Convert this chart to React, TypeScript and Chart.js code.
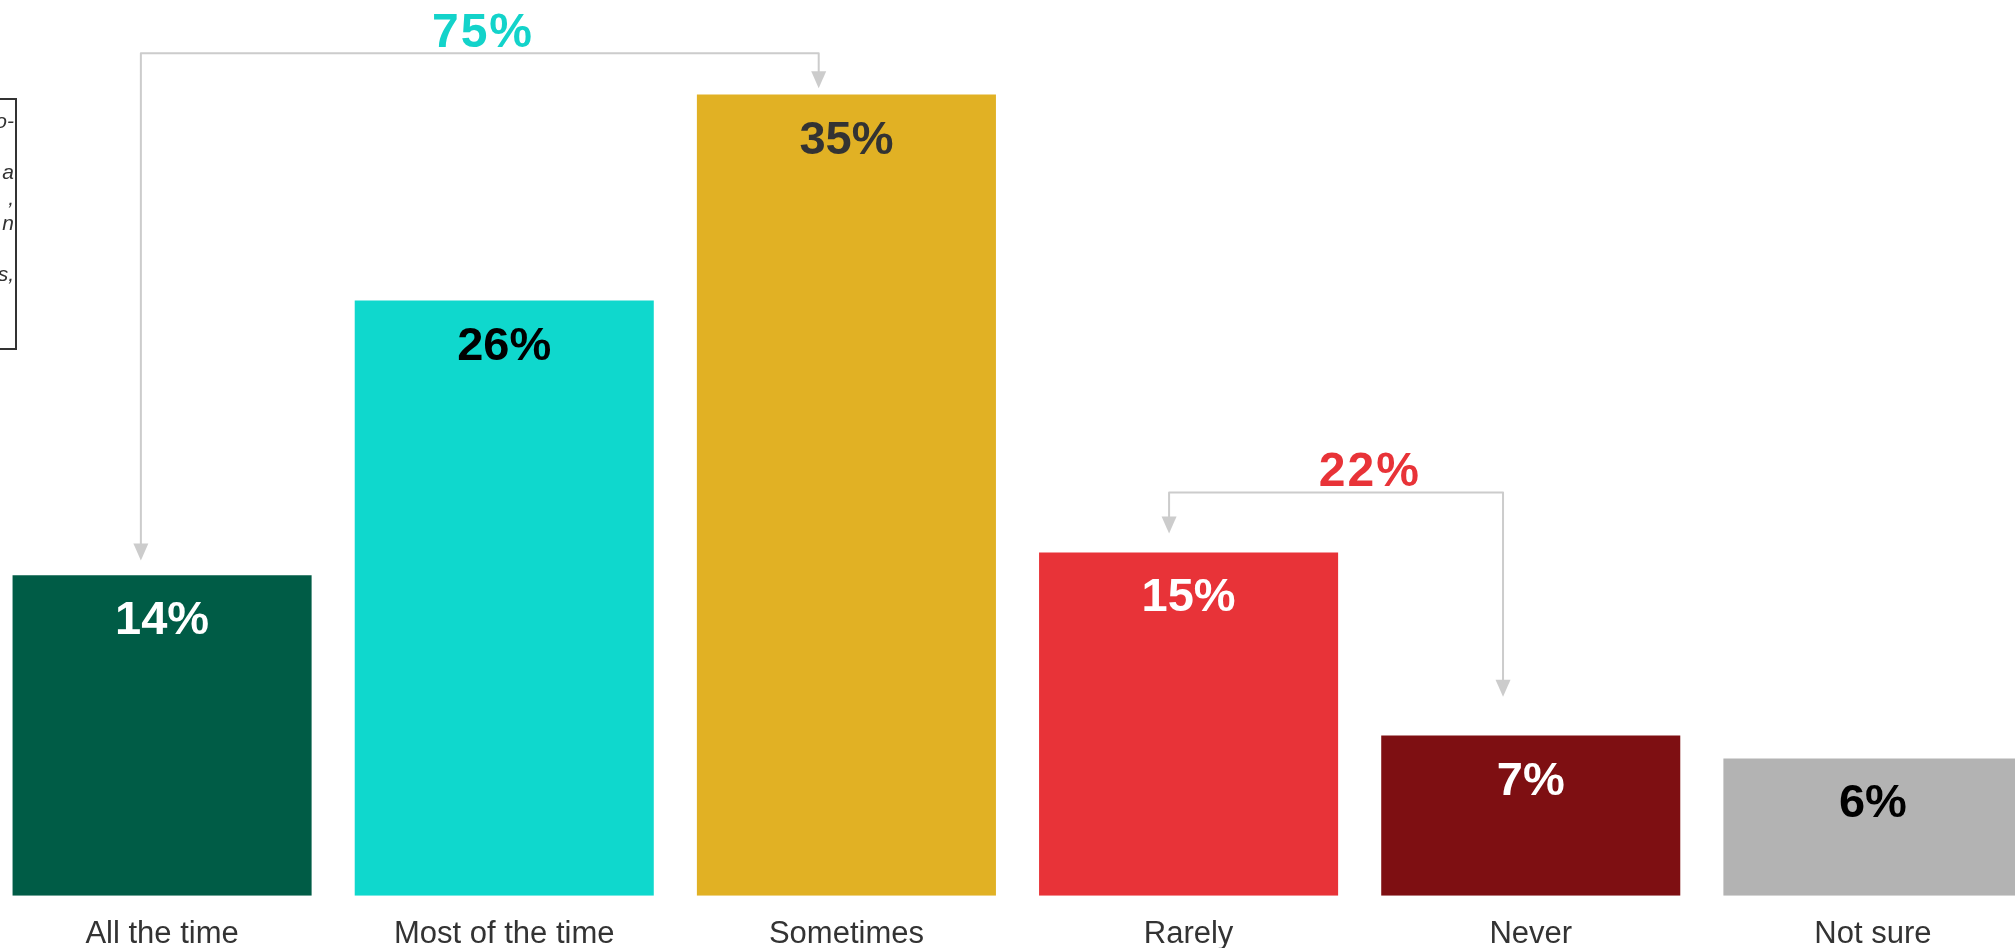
import React, { useEffect, useRef } from "react";
import { Chart, registerables } from "chart.js";

Chart.register(...registerables);

const categories = ["All the time", "Most of the time", "Sometimes", "Rarely", "Never", "Not sure"];
const values = [14, 26, 35, 15, 7, 6];
const barColors = ["#005C46", "#0FD8CD", "#E1B124", "#E83338", "#7E0F12", "#B3B3B3"];
const valueLabelColors = ["#FFFFFF", "#000000", "#333333", "#FFFFFF", "#FFFFFF", "#000000"];

const bracketLabels = ["75%", "22%"];
const bracketColors = ["#13D3CA", "#E83338"];
const bracketFrom = [-0.062, 2.943];
const bracketTo = [1.919, 3.919];
const bracketLevel = [36.8, 17.62];
const bracketFromTip = [14.65, 15.83];
const bracketToTip = [35.27, 8.7];
const bracketLabelX = [0.935, 3.527];

const noteLines = ["o-", "", "a", ",", "n", "", "s,", "", ""];

const FONT = '"Liberation Sans", Arial, sans-serif';

const overlayPlugin = {
  id: "overlay",
  afterDatasetsDraw(chart: any) {
    const ctx = chart.ctx;
    const xs = chart.scales.x;
    const ys = chart.scales.y;
    const meta = chart.getDatasetMeta(0);
    ctx.save();
    ctx.font = `bold 47px ${FONT}`;
    ctx.textAlign = "center";
    ctx.textBaseline = "alphabetic";
    meta.data.forEach((bar: any, i: number) => {
      ctx.fillStyle = valueLabelColors[i];
      ctx.fillText(`${values[i]}%`, bar.x, bar.y + 59);
    });
    for (let b = 0; b < bracketLabels.length; b++) {
      const x1 = xs.getPixelForValue(bracketFrom[b]);
      const x2 = xs.getPixelForValue(bracketTo[b]);
      const yl = ys.getPixelForValue(bracketLevel[b]);
      const t1 = ys.getPixelForValue(bracketFromTip[b]);
      const t2 = ys.getPixelForValue(bracketToTip[b]);
      ctx.strokeStyle = "#CCCCCC";
      ctx.fillStyle = "#CCCCCC";
      ctx.lineWidth = 2;
      ctx.lineJoin = "round";
      ctx.beginPath();
      ctx.moveTo(x1, t1 - 15);
      ctx.lineTo(x1, yl);
      ctx.lineTo(x2, yl);
      ctx.lineTo(x2, t2 - 15);
      ctx.stroke();
      [[x1, t1], [x2, t2]].forEach(([x, t]) => {
        ctx.beginPath();
        ctx.moveTo(x - 7.5, t - 17);
        ctx.lineTo(x + 7.5, t - 17);
        ctx.lineTo(x, t);
        ctx.closePath();
        ctx.fill();
      });
      ctx.font = `bold 48px ${FONT}`;
      (ctx as any).letterSpacing = "2px";
      ctx.fillStyle = bracketColors[b];
      ctx.textAlign = "center";
      ctx.fillText(bracketLabels[b], xs.getPixelForValue(bracketLabelX[b]) + 1, yl - 6);
      (ctx as any).letterSpacing = "0px";
    }
    ctx.restore();
  },
};

export default function App() {
  const ref = useRef<HTMLCanvasElement | null>(null);
  useEffect(() => {
    if (!ref.current) return;
    const chart = new Chart(ref.current, {
      type: "bar",
      data: {
        labels: categories,
        datasets: [
          {
            data: values,
            backgroundColor: barColors,
            borderWidth: 0,
            barPercentage: 0.874,
            categoryPercentage: 1,
          },
        ],
      },
      options: {
        responsive: false,
        animation: false,
        layout: { padding: 0 },
        plugins: { legend: { display: false }, tooltip: { enabled: false } },
        scales: {
          x: {
            grid: { display: false, drawTicks: false },
            border: { display: false },
            ticks: { padding: 20, color: "#333333", font: { size: 31, family: FONT }, maxRotation: 0, autoSkip: false },
          },
          y: { display: false, min: 0, max: 39.13 },
        },
      },
      plugins: [overlayPlugin],
    });
    return () => chart.destroy();
  }, []);

  return (
    <div style={{ position: "fixed", left: 0, top: 0, width: 2015, height: 948, overflow: "hidden", background: "#fff" }}>
      <canvas ref={ref} width={2053} height={973} style={{ position: "absolute", left: -9, top: 0, width: 2053, height: 973 }} />
      <div
        style={{
          position: "absolute",
          left: -300,
          top: 98,
          width: 313,
          height: 240,
          border: "2px solid #333",
          boxSizing: "content-box",
          paddingTop: 8,
          fontFamily: FONT,
          fontStyle: "italic",
          fontSize: 21,
          lineHeight: "25.5px",
          color: "#333",
          textAlign: "right",
          overflow: "hidden",
        }}
      >
        {noteLines.map((l, i) => (
          <div key={i} style={{ height: 25.5, paddingRight: 1 }}>{l}</div>
        ))}
      </div>
    </div>
  );
}
